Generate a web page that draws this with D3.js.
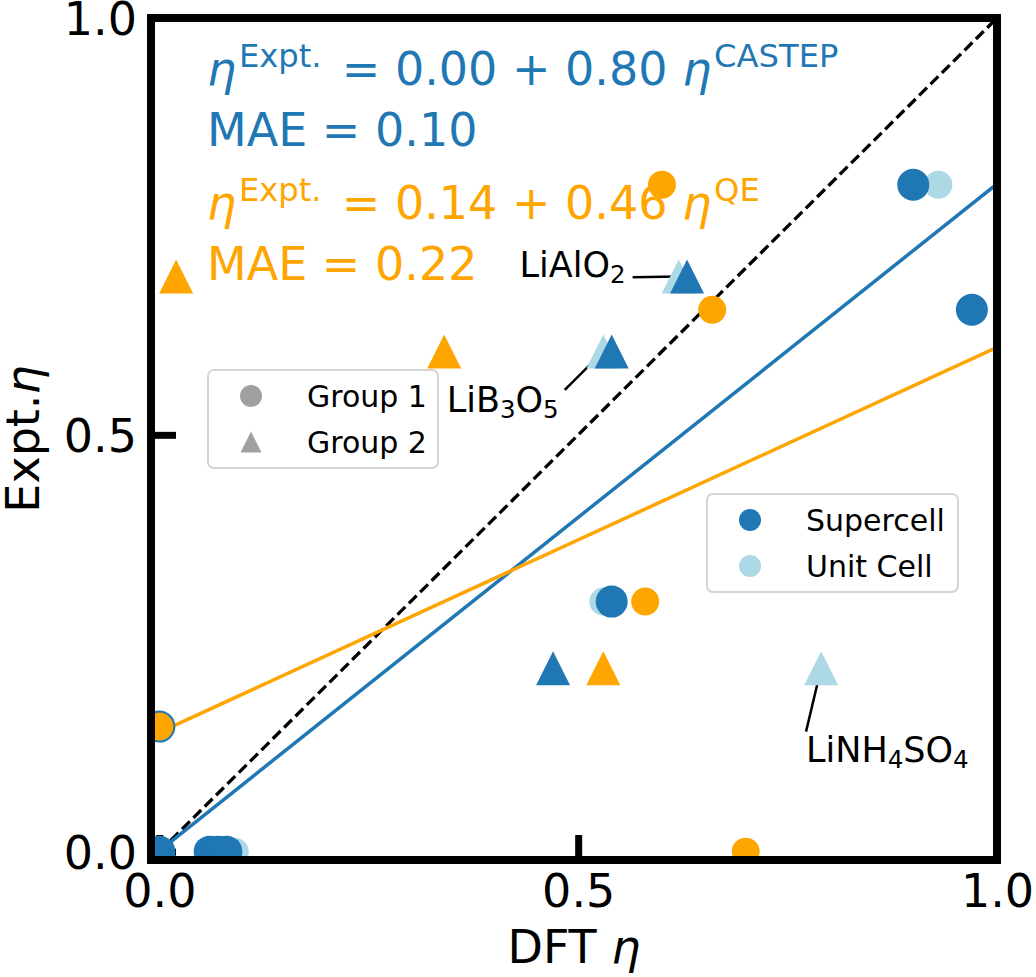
<!DOCTYPE html>
<html lang="en">
<head>
<meta charset="utf-8">
<style>
  body { margin: 0; background: #fff; }
  svg { display: block; font-family: "DejaVu Sans", sans-serif; }
  .tick text { font-family: "DejaVu Sans", sans-serif; }
</style>
</head>
<body>
<svg width="1036" height="977"></svg>
<script src="https://cdn.jsdelivr.net/npm/d3@7"></script>
<script>
// ---- data ----
// Group 1 (circles)
var g1SuperX = [0.90, 0.97, 0.54, 0.00, 0.06, 0.07, 0.08, 0.00];
var g1SuperY = [0.80, 0.65, 0.30, 0.00, 0.00, 0.00, 0.00, 0.15];
var g1UnitX  = [0.93, 0.53, 0.09];
var g1UnitY  = [0.80, 0.30, 0.00];
var g1QeX    = [0.60, 0.66, 0.58, 0.70, 0.00];
var g1QeY    = [0.80, 0.65, 0.30, 0.00, 0.15];
// Group 2 (triangles)
var g2SuperX = [0.63, 0.54, 0.47];
var g2SuperY = [0.69, 0.60, 0.22];
var g2UnitX  = [0.62, 0.53, 0.79];
var g2UnitY  = [0.69, 0.60, 0.22];
var g2QeX    = [0.02, 0.34, 0.53];
var g2QeY    = [0.69, 0.60, 0.22];

// linear fits: [intercept, slope]
var castepFit = [0.001, 0.80];
var qeFit = [0.143, 0.462];
var castepMae = "0.10";
var qeMae = "0.22";

var xTicks = [0.0, 0.5, 1.0];
var yTicks = [0.0, 0.5, 1.0];

// annotations: label parts, point, text anchor, leader start
var notes = [
  {parts: [{t: "LiAlO"}, {t: "2", sub: 1}], px: 0.62, py: 0.69, tx: 0.430, ty: 0.689, lx: 0.565, ly: 0.689},
  {parts: [{t: "LiB"}, {t: "3", sub: 1}, {t: "O"}, {t: "5", sub: 1}], px: 0.53, py: 0.60, tx: 0.343, ty: 0.527, lx: 0.484, ly: 0.554},
  {parts: [{t: "LiNH"}, {t: "4", sub: 1}, {t: "SO"}, {t: "4", sub: 1}], px: 0.79, py: 0.22, tx: 0.772, ty: 0.108, lx: 0.772, ly: 0.144}
];

var blue = "#1f77b4", light = "#add8e6", orange = "#ffa500", grey = "#a0a0a0";

var svg = d3.select("svg");
var x = d3.scaleLinear().domain([-0.01, 1.0]).range([151, 997]);
var y = d3.scaleLinear().domain([-0.01, 1.0]).range([860, 18]);

// write mathtext-like runs (italic, super/subscript) into a text node
function mathText(sel, parts, size) {
  var cur = 0, prevSup = false;
  parts.forEach(function(p) {
    var off = p.sup ? -0.40 * size : (p.sub ? 0.17 * size : 0);
    var dx = 0;
    if (p.sup) dx = 0.06 * size;
    else if (prevSup) dx = 0.12 * size;
    sel.append("tspan")
      .attr("dy", off - cur)
      .attr("dx", dx || null)
      .attr("font-size", (p.sup || p.sub) ? size * 0.7 : size)
      .attr("font-style", p.it ? "italic" : null)
      .text(p.t);
    cur = off;
    prevSup = !!p.sup;
  });
}

svg.append("defs").append("clipPath").attr("id", "clip")
  .append("rect")
    .attr("x", x.range()[0]).attr("y", y.range()[1])
    .attr("width", x.range()[1] - x.range()[0])
    .attr("height", y.range()[0] - y.range()[1]);

// axes with inward ticks
var xAxis = svg.append("g")
    .attr("transform", "translate(0," + y.range()[0] + ")")
    .call(d3.axisBottom(x).tickValues(xTicks).tickFormat(d3.format(".1f")).tickSize(-25).tickPadding(14));
var yAxis = svg.append("g")
    .attr("transform", "translate(" + x.range()[0] + ",0)")
    .call(d3.axisLeft(y).tickValues(yTicks).tickFormat(d3.format(".1f")).tickSize(-25).tickPadding(14));
[xAxis, yAxis].forEach(function(a) {
  a.select(".domain").remove();
  a.selectAll(".tick line").attr("stroke", "#000").attr("stroke-width", 7);
  a.selectAll(".tick text").attr("font-size", 46).attr("fill", "#000");
});
yAxis.selectAll(".tick text").attr("dy", "0.36em");

var plot = svg.append("g").attr("clip-path", "url(#clip)");

// lines
var line = d3.line().x(function(d) { return x(d[0]); }).y(function(d) { return y(d[1]); });
plot.append("path").datum([[0, 0], [1, 1]]).attr("d", line)
  .attr("stroke", "#000").attr("stroke-width", 3.3).attr("stroke-dasharray", "11,5").attr("fill", "none");
plot.append("path").datum([0, 1].map(function(v) { return [v, castepFit[0] + castepFit[1] * v]; })).attr("d", line)
  .attr("stroke", blue).attr("stroke-width", 3.5).attr("fill", "none");
plot.append("path").datum([0, 1].map(function(v) { return [v, qeFit[0] + qeFit[1] * v]; })).attr("d", line)
  .attr("stroke", orange).attr("stroke-width", 3.5).attr("fill", "none");

// matplotlib style "^" marker (width == height)
var tri = {draw: function(ctx, size) {
  var h = Math.sqrt(size) / 2;
  ctx.moveTo(0, -h); ctx.lineTo(h, h); ctx.lineTo(-h, h); ctx.closePath();
}};

function circles(xs, ys, r, color) {
  plot.append("g").selectAll("circle").data(xs).enter().append("circle")
    .attr("cx", function(d) { return x(d); })
    .attr("cy", function(d, i) { return y(ys[i]); })
    .attr("r", r).attr("fill", color);
}
function triangles(xs, ys, s, color) {
  plot.append("g").selectAll("path").data(xs).enter().append("path")
    .attr("d", d3.symbol().type(tri).size(s * s))
    .attr("transform", function(d, i) { return "translate(" + x(d) + "," + y(ys[i]) + ")"; })
    .attr("fill", color);
}

// annotation leader lines (under markers)
notes.forEach(function(n) {
  plot.append("line")
    .attr("x1", x(n.lx)).attr("y1", y(n.ly)).attr("x2", x(n.px)).attr("y2", y(n.py))
    .attr("stroke", "#000").attr("stroke-width", 2.5);
});

circles(g1UnitX, g1UnitY, 14, light);
triangles(g2UnitX, g2UnitY, 34, light);
circles(g1SuperX, g1SuperY, 16, blue);
triangles(g2SuperX, g2SuperY, 34, blue);
circles(g1QeX, g1QeY, 14, orange);
triangles(g2QeX, g2QeY, 34, orange);

notes.forEach(function(n) {
  var t = svg.append("text").attr("x", x(n.tx)).attr("y", y(n.ty)).attr("fill", "#000");
  mathText(t, n.parts, 35);
});

// fit equations
var eqs = [
  {c: blue, y: 85, parts: [{t: "\u03b7", it: 1}, {t: "Expt.", sup: 1}, {t: " = " + castepFit[0].toFixed(2) + " + " + castepFit[1].toFixed(2) + " "}, {t: "\u03b7", it: 1}, {t: "CASTEP", sup: 1}]},
  {c: blue, y: 146, parts: [{t: "MAE = " + castepMae}]},
  {c: orange, y: 219, parts: [{t: "\u03b7", it: 1}, {t: "Expt.", sup: 1}, {t: " = " + qeFit[0].toFixed(2) + " + " + qeFit[1].toFixed(2) + " "}, {t: "\u03b7", it: 1}, {t: "QE", sup: 1}]},
  {c: orange, y: 280, parts: [{t: "MAE = " + qeMae}]}
];
eqs.forEach(function(e) {
  var t = svg.append("text").attr("x", 207).attr("y", e.y).attr("fill", e.c).style("white-space", "pre");
  mathText(t, e.parts, 46);
});

// legends
function legend(x0, y0, w, items) {
  var g = svg.append("g");
  g.append("rect").attr("x", x0).attr("y", y0).attr("width", w).attr("height", 98)
    .attr("rx", 6).attr("fill", "#fff").attr("fill-opacity", 0.8)
    .attr("stroke", "#d4d4d4").attr("stroke-width", 2);
  items.forEach(function(it, i) {
    var cy = y0 + 26 + i * 46;
    if (it.shape === "tri") {
      g.append("path").attr("d", d3.symbol().type(tri).size(21 * 21))
        .attr("transform", "translate(" + (x0 + 43) + "," + cy + ")").attr("fill", it.c);
    } else {
      g.append("circle").attr("cx", x0 + 43).attr("cy", cy).attr("r", 11).attr("fill", it.c);
    }
    g.append("text").attr("x", x0 + 99).attr("y", cy + 10.5).attr("font-size", 30).attr("fill", "#000").text(it.label);
  });
}
legend(208, 370, 230, [{label: "Group 1", c: grey, shape: "circle"}, {label: "Group 2", c: grey, shape: "tri"}]);
legend(707, 494, 251, [{label: "Supercell", c: blue}, {label: "Unit Cell", c: light}]);

// frame
svg.append("rect")
  .attr("x", x.range()[0]).attr("y", y.range()[1])
  .attr("width", x.range()[1] - x.range()[0]).attr("height", y.range()[0] - y.range()[1])
  .attr("fill", "none").attr("stroke", "#000").attr("stroke-width", 8);

// axis labels
var xl = svg.append("text").attr("x", (x.range()[0] + x.range()[1]) / 2).attr("y", 963)
  .attr("text-anchor", "middle").attr("fill", "#000");
mathText(xl, [{t: "DFT "}, {t: "\u03b7", it: 1}], 46);
var yl = svg.append("text").attr("transform", "translate(39," + (y.range()[0] + y.range()[1]) / 2 + ") rotate(-90)")
  .attr("text-anchor", "middle").attr("fill", "#000");
mathText(yl, [{t: "Expt."}, {t: "\u03b7", it: 1}], 46);
</script>
</body>
</html>
